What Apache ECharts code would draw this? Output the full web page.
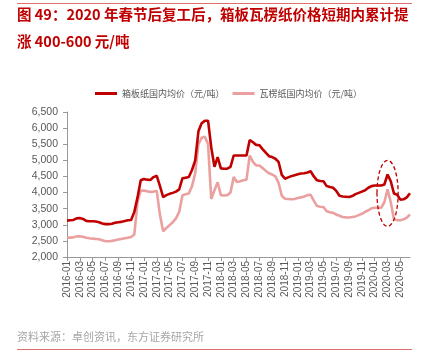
<!DOCTYPE html>
<html><head><meta charset="utf-8">
<script src="https://cdn.jsdelivr.net/npm/echarts@6/dist/echarts.min.js"></script>
<style>html,body{margin:0;padding:0;background:#fff}#c{width:427px;height:363px}</style>
</head><body><div id="c"></div>
<script>
const titleText = '图 49：2020 年春节后复工后，箱板瓦楞纸价格短期内累计提\n涨 400-600 元/吨';
const sourceText = '资料来源：卓创资讯，东方证券研究所';
const seriesNames = ['箱板纸国内均价（元/吨）', '瓦楞纸国内均价（元/吨）'];
const startYear = 2016, monthCount = 54; // two points per month (first / second half)
const categories = [];
for (let i = 0; i < monthCount; i++) {
  const y = startYear + Math.floor(i / 12), m = i % 12 + 1;
  const s = y + '-' + String(m).padStart(2, '0');
  categories.push(s + '-上', s + '-下');
}
const boxboard = [
  3130,3140,3150,3200,3210,3180,3120,3110,3110,3100,3080,3040,
  3020,3020,3030,3060,3080,3090,3120,3140,3150,3400,3850,4380,
  4420,4400,4390,4480,4520,4200,3860,3920,3960,3990,4030,4100,
  4440,4460,4480,4700,5000,5900,6150,6230,6230,5400,4800,5100,
  4750,4740,4740,4800,5150,5150,5150,5150,5150,5630,5560,5480,
  5470,5350,5240,5130,5100,5050,4950,4550,4430,4470,4510,4540,
  4570,4590,4600,4620,4660,4500,4380,4360,4350,4200,4170,4150,
  4050,3900,3880,3870,3860,3890,3950,3990,4030,4070,4150,4200,
  4220,4220,4220,4250,4560,4350,3970,3930,3780,3790,3850,3980
];
const corrugated = [
  2600,2600,2610,2640,2640,2630,2600,2580,2570,2560,2550,2520,
  2490,2490,2500,2520,2540,2560,2580,2600,2620,2700,3700,4060,
  4060,4040,4020,4030,4050,3300,2800,2900,2990,3080,3200,3400,
  3910,3950,3970,4200,4600,5500,5700,5730,5500,3800,4070,4320,
  3920,3910,3920,4000,4480,4330,4350,4380,4400,5150,4950,4840,
  4840,4760,4680,4600,4560,4500,4300,3900,3810,3800,3790,3800,
  3830,3850,3880,3920,3930,3750,3580,3560,3550,3420,3390,3370,
  3320,3280,3240,3230,3225,3240,3260,3300,3340,3400,3450,3510,
  3530,3530,3530,3700,4100,3700,3170,3140,3140,3170,3220,3320
];
const yMin = 2000, yMax = 6500, yInterval = 500;
const highlight = { index: 100, value: 3970, top: 5000, bottom: 2950, halfSpan: 3.3 };

const font = "'Liberation Sans', 'Noto Sans CJK SC', sans-serif";
const chart = echarts.init(document.getElementById('c'), null, { renderer: 'canvas' });
const showEvery = (i) => i % 4 === 0;
chart.setOption({
  animation: false,
  backgroundColor: '#fff',
  title: {
    text: titleText, left: 17, top: 1, padding: 0,
    textStyle: { fontFamily: "'Noto Sans CJK SC', sans-serif", fontSize: 14.5, fontWeight: 'bold', color: '#C00000', lineHeight: 27 }
  },
  legend: {
    left: 90, top: 84, itemWidth: 22, itemHeight: 3, itemGap: 8, icon: 'rect',
    textStyle: { fontFamily: "'Noto Sans CJK SC', sans-serif", fontSize: 9, color: '#595959' },
    data: seriesNames
  },
  grid: { left: 67, right: 17, top: 112, bottom: 106 },
  xAxis: {
    type: 'category', data: categories, boundaryGap: false,
    axisLine: { lineStyle: { color: '#999', width: 1 } },
    axisTick: { interval: (i) => showEvery(i), length: 4, lineStyle: { color: '#999' } },
    axisLabel: { interval: (i) => showEvery(i), rotate: 90, fontSize: 10, color: '#595959', fontFamily: font, margin: 4,
      formatter: (v) => v.slice(0, 7) },
    splitLine: { show: false }
  },
  yAxis: {
    type: 'value', min: yMin, max: yMax, interval: yInterval,
    axisLine: { show: true, lineStyle: { color: '#999', width: 1 } },
    axisTick: { show: true, length: 4, lineStyle: { color: '#999' } },
    axisLabel: { fontSize: 10.5, color: '#595959', fontFamily: font, margin: 9,
      formatter: (v) => v.toLocaleString('en-US') },
    splitLine: { show: false }
  },
  series: [
    { name: seriesNames[0], type: 'line', data: boxboard, symbol: 'none', z: 3,
      lineStyle: { color: '#C00000', width: 2.6 }, itemStyle: { color: '#C00000' } },
    { name: seriesNames[1], type: 'line', data: corrugated, symbol: 'none', z: 2,
      lineStyle: { color: '#EBA0A0', width: 2.6 }, itemStyle: { color: '#EBA0A0' } }
  ]
});
const ctr = chart.convertToPixel({ gridIndex: 0 }, [highlight.index, highlight.value]);
const topP = chart.convertToPixel({ gridIndex: 0 }, [highlight.index, highlight.top]);
const botP = chart.convertToPixel({ gridIndex: 0 }, [highlight.index, highlight.bottom]);
const rightP = chart.convertToPixel({ gridIndex: 0 }, [highlight.index + 3, highlight.value]);
const rx = (rightP[0] - ctr[0]) / 3 * highlight.halfSpan;
chart.setOption({
  graphic: [
    { type: 'line', shape: { x1: 17, y1: 3.5, x2: 412, y2: 3.5 }, style: { stroke: '#E07070', lineWidth: 1 } },
    { type: 'line', shape: { x1: 17, y1: 349.5, x2: 412, y2: 349.5 }, style: { stroke: '#E07070', lineWidth: 1 } },
    { type: 'text', left: 17, top: 331, style: { text: sourceText, fontSize: 11, fill: '#A6A6A6', fontFamily: "'Noto Sans CJK SC', sans-serif" } },
    { type: 'ellipse', z: 10, shape: { cx: ctr[0], cy: (topP[1] + botP[1]) / 2, rx: rx, ry: (botP[1] - topP[1]) / 2 },
      style: { fill: 'none', stroke: '#C00000', lineWidth: 1.3, lineDash: [4, 2.5] } }
  ]
});
</script>
</body></html>
